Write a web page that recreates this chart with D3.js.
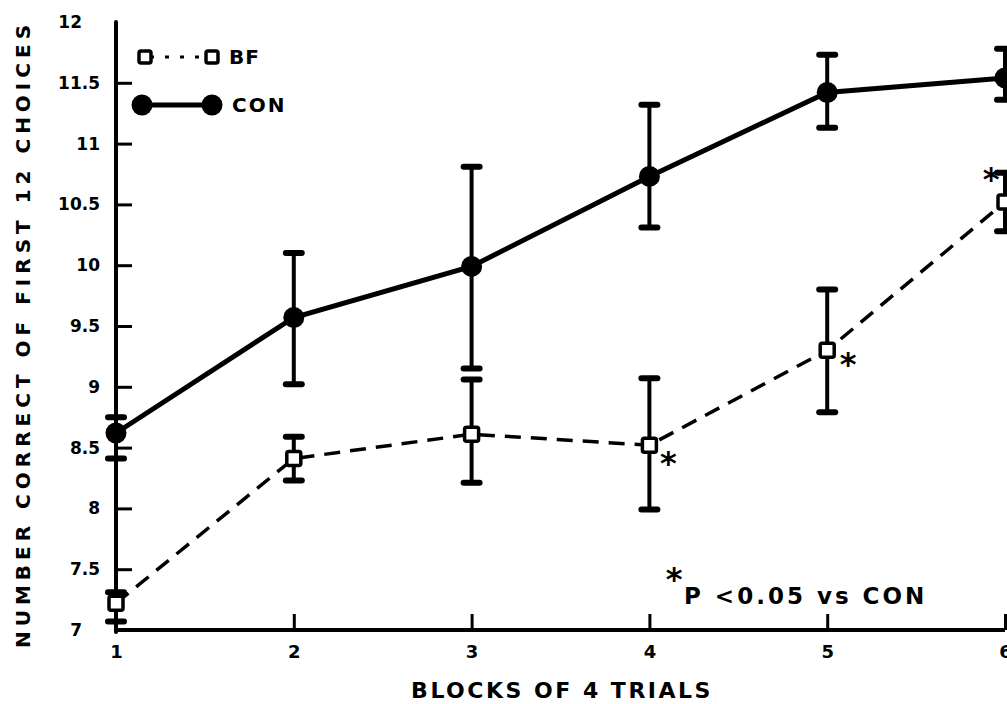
<!DOCTYPE html>
<html>
<head>
<meta charset="utf-8">
<script src="https://cdn.jsdelivr.net/npm/d3@7"></script>
<style>
  html, body { margin: 0; padding: 0; background: #fff; }
  svg { display: block; }
  text { font-family: "DejaVu Sans", "Liberation Sans", sans-serif; font-weight: bold; fill: #000; }
</style>
</head>
<body>
<svg id="chart" width="1007" height="704"></svg>
<script>
// ---- data ----
const blocks   = [1, 2, 3, 4, 5, 6];
const bfMean   = [7.22, 8.41, 8.61, 8.52, 9.30, 10.52];
const bfLow    = [7.07, 8.23, 8.21, 7.99, 8.79, 10.28];
const bfHigh   = [7.31, 8.59, 9.06, 9.07, 9.80, 10.76];
const conMean  = [8.62, 9.57, 9.99, 10.73, 11.42, 11.54];
const conLow   = [8.41, 9.02, 9.15, 10.31, 11.13, 11.36];
const conHigh  = [8.75, 10.10, 10.81, 11.32, 11.73, 11.78];
const bfSignificant = [false, false, false, true, true, true];
const yTicks   = [7, 7.5, 8, 8.5, 9, 9.5, 10, 10.5, 11, 11.5, 12];
const xTicks   = [1, 2, 3, 4, 5, 6];
const seriesNames = ["BF", "CON"];
const xTitle = "BLOCKS OF 4 TRIALS";
const yTitle = "NUMBER CORRECT OF FIRST 12 CHOICES";
const noteText = "P <0.05 vs CON";

// ---- layout ----
const svg = d3.select("#chart");
const x = d3.scaleLinear().domain([1, 6]).range([116, 1005]);
const y = d3.scaleLinear().domain([7, 12]).range([630, 22]);

// axes
const xAxis = d3.axisBottom(x).tickValues(xTicks).tickSize(-16).tickPadding(24).tickFormat(d3.format("d"));
const yAxis = d3.axisLeft(y).tickValues(yTicks.filter(v => v !== 7 && v !== 12)).tickSize(-16).tickPadding(28).tickFormat(d => d);

const gx = svg.append("g").attr("transform", `translate(0,${y(7)})`).call(xAxis);
gx.select(".domain").attr("d", `M${x(1)},0H${x(6)}`).attr("stroke", "#000").attr("stroke-width", 4);
gx.selectAll(".tick line").attr("stroke", "#000").attr("stroke-width", 3);
gx.selectAll(".tick text").style("font-size", "18px").attr("dy", "0.2em");

const gy = svg.append("g").attr("transform", `translate(${x(1)},0)`).call(yAxis);
gy.select(".domain").attr("d", `M0,${y(12)}V${y(7) + 2}`).attr("stroke", "#000").attr("stroke-width", 4).attr("stroke-linecap", "round");
gy.selectAll(".tick line").attr("stroke", "#000").attr("stroke-width", 3);
gy.selectAll(".tick text").style("font-size", "17px").attr("x", -16);

// end labels for 7 and 12
svg.append("g").selectAll("text").data([7, 12]).join("text")
  .attr("x", 82).attr("y", d => y(d)).attr("dy", "0.35em")
  .attr("text-anchor", "end").style("font-size", "17px").text(d => d);

// axis titles
svg.append("text")
  .attr("transform", `translate(30,${(y(7) + y(12)) / 2 + 8}) rotate(-90)`)
  .attr("text-anchor", "middle").style("font-size", "20px").style("letter-spacing", "5px")
  .text(yTitle);
svg.append("text")
  .attr("x", 562).attr("y", 698).attr("text-anchor", "middle")
  .style("font-size", "22px").style("letter-spacing", "2.5px")
  .text(xTitle);

// ---- series ----
const conData = blocks.map((b, i) => ({ b, m: conMean[i], lo: conLow[i], hi: conHigh[i] }));
const bfData  = blocks.map((b, i) => ({ b, m: bfMean[i], lo: bfLow[i], hi: bfHigh[i], sig: bfSignificant[i] }));

const line = d3.line().x(d => x(d.b)).y(d => y(d.m));

function errorBars(data) {
  const g = svg.append("g");
  g.selectAll("line.v").data(data).join("line")
    .attr("x1", d => x(d.b)).attr("x2", d => x(d.b))
    .attr("y1", d => y(d.lo)).attr("y2", d => y(d.hi))
    .attr("stroke", "#000").attr("stroke-width", 4);
  g.selectAll("line.c").data(data.flatMap(d => [{ b: d.b, v: d.lo }, { b: d.b, v: d.hi }])).join("line")
    .attr("x1", d => x(d.b) - 8).attr("x2", d => x(d.b) + 8)
    .attr("y1", d => y(d.v)).attr("y2", d => y(d.v))
    .attr("stroke", "#000").attr("stroke-width", 6).attr("stroke-linecap", "round");
}

// CON
svg.append("path").datum(conData).attr("d", line)
  .attr("fill", "none").attr("stroke", "#000").attr("stroke-width", 5);
errorBars(conData);
svg.append("g").selectAll("circle").data(conData).join("circle")
  .attr("cx", d => x(d.b)).attr("cy", d => y(d.m)).attr("r", 10.5).attr("fill", "#000");

// BF
svg.append("path").datum(bfData).attr("d", line)
  .attr("fill", "none").attr("stroke", "#000").attr("stroke-width", 3.5)
  .attr("stroke-dasharray", "16,10");
errorBars(bfData);
svg.append("g").selectAll("rect").data(bfData).join("rect")
  .attr("x", d => x(d.b) - 7).attr("y", d => y(d.m) - 7).attr("width", 14).attr("height", 14)
  .attr("fill", "#fff").attr("stroke", "#000").attr("stroke-width", 3.5).attr("rx", 2);

// significance marks
const sigOffsets = { 4: [19, 6], 5: [21, 2], 6: [-14, -34] };
svg.append("g").selectAll("text").data(bfData.filter(d => d.sig)).join("text")
  .attr("x", d => x(d.b) + sigOffsets[d.b][0]).attr("y", d => y(d.m) + sigOffsets[d.b][1])
  .attr("text-anchor", "middle").attr("dy", "0.7em").style("font-size", "32px").text("*");

// ---- legend ----
const lg = svg.append("g");
lg.append("line").attr("x1", 150).attr("x2", 210).attr("y1", 57).attr("y2", 57)
  .attr("stroke", "#000").attr("stroke-width", 3).attr("stroke-dasharray", "4,11");
lg.append("rect").attr("x", 139).attr("y", 51).attr("width", 12).attr("height", 12)
  .attr("fill", "#fff").attr("stroke", "#000").attr("stroke-width", 3.5).attr("rx", 2);
lg.append("rect").attr("x", 206).attr("y", 51).attr("width", 12).attr("height", 12)
  .attr("fill", "#fff").attr("stroke", "#000").attr("stroke-width", 3.5).attr("rx", 2);
lg.append("text").attr("x", 229).attr("y", 57).attr("dy", "0.35em").style("font-size", "20px").style("letter-spacing", "1px").text(seriesNames[0]);
lg.append("line").attr("x1", 142).attr("x2", 212).attr("y1", 105).attr("y2", 105)
  .attr("stroke", "#000").attr("stroke-width", 5);
lg.append("circle").attr("cx", 142).attr("cy", 105).attr("r", 10.5).attr("fill", "#000");
lg.append("circle").attr("cx", 212).attr("cy", 105).attr("r", 10.5).attr("fill", "#000");
lg.append("text").attr("x", 232).attr("y", 105).attr("dy", "0.35em").style("font-size", "20px").style("letter-spacing", "2px").text(seriesNames[1]);

// note
svg.append("text").attr("x", 674).attr("y", 568).attr("dy", "0.7em").attr("text-anchor", "middle").style("font-size", "32px").text("*");
svg.append("text").attr("x", 684).attr("y", 604).style("font-size", "23px").style("letter-spacing", "3px").text(noteText);
</script>
</body>
</html>
